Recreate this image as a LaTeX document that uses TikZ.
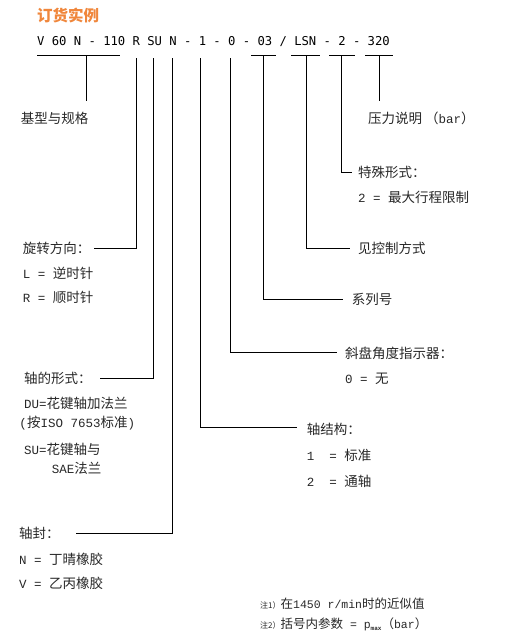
\documentclass[tikz,border=0pt]{standalone}
\usepackage{fontspec}
\newfontfamily\cjk{Noto Sans CJK SC}
\newfontfamily\lat{Liberation Mono}
\newfontfamily\codefont{DejaVu Sans Mono}
\newcommand{\lt}[1]{{\fontsize{12.5}{14}\lat #1}}
\definecolor{orangetitle}{RGB}{240,135,60}
\definecolor{ink}{RGB}{40,40,40}
\tikzset{
  lab/.style={anchor=west, inner sep=0pt, font=\fontsize{13.5}{16}\cjk, text=ink},
  note/.style={anchor=west, inner sep=0pt, font=\fontsize{12.5}{15}\cjk, text=ink},
  conn/.style={draw=black, line width=0.9pt},
}
\begin{document}
\begin{tikzpicture}[x=1pt, y=-1pt]
\fill[white] (0,0) rectangle (512,635);
\useasboundingbox (0,0) rectangle (512,635);

% title and code
\node[anchor=west, inner sep=0pt, text=orangetitle, font=\fontsize{15.5}{18}\cjk\bfseries] (title) at (37,15) {订货实例};
\node[anchor=west, inner sep=0pt, text=black, font=\fontsize{12.2}{15}\codefont] (code) at (37,42) {V 60 N - 110 R SU N - 1 - 0 - 03 / LSN - 2 - 320};

% underlines
\draw[conn] (37,55) -- (120,55);
\draw[conn] (251,55) -- (276,55);
\draw[conn] (291,55) -- (320,55);
\draw[conn] (329,55) -- (355,55);
\draw[conn] (365,55) -- (393,55);

% token anchor coordinates
\coordinate (tBase) at (86,55);
\coordinate (tR) at (136.3,58);
\coordinate (tSU) at (153.3,58);
\coordinate (tN) at (172.3,58);
\coordinate (tOne) at (200.3,58);
\coordinate (tZero) at (230.3,58);
\coordinate (tSer) at (263.3,55);
\coordinate (tLSN) at (306.3,55);
\coordinate (tTwo) at (341.3,55);
\coordinate (tPres) at (379,55);

% labels
\node[lab] (base) at (20.7,118) {基型与规格};
\node[lab] (pres) at (368,118) {压力说明\hspace{3pt}（\lt{bar}）};
\node[lab] (spec) at (358,172) {特殊形式：};
\node[lab] (spec2) at (358,197) {\lt{2 = }最大行程限制};
\node[lab] (ctrl) at (358,248) {见控制方式};
\node[lab] (ser) at (351.7,299.5) {系列号};
\node[lab] (rot) at (22.7,248) {旋转方向：};
\node[lab] (rotL) at (22.7,273.5) {\lt{L = }逆时针};
\node[lab] (rotR) at (22.7,297) {\lt{R = }顺时针};
\node[lab] (sw) at (345,353) {斜盘角度指示器：};
\node[lab] (sw0) at (345,378.5) {\lt{0 = }无};
\node[lab] (shaft) at (24,378) {轴的形式：};
\node[lab] (du) at (24,403.5) {\lt{DU=}花键轴加法兰};
\node[lab] (iso) at (19.3,423.5) {\lt{(}按\lt{ISO 7653}标准\lt{)}};
\node[lab] (su) at (24,449) {\lt{SU=}花键轴与};
\node[lab] (sae) at (51.7,468.5) {\lt{SAE}法兰};
\node[lab] (str) at (306.7,429) {轴结构：};
\node[lab] (str1) at (306.7,455) {\lt{1\ \ = }标准};
\node[lab] (str2) at (306.7,481) {\lt{2\ \ = }通轴};
\node[lab] (seal) at (19,533.5) {轴封：};
\node[lab] (sealN) at (19,559.5) {\lt{N = }丁晴橡胶};
\node[lab] (sealV) at (19,583.5) {\lt{V = }乙丙橡胶};
\node[note] (n1) at (260,604) {{\fontsize{8}{10}\cjk 注1）}在{\fontsize{11.5}{14}\lat 1450 r/min}时的近似值};
\node[note] (n2) at (260,624) {{\fontsize{8}{10}\cjk 注2）}括号内参数{\fontsize{11.5}{14}\lat{} = p\raisebox{-2.5pt}{\fontsize{6}{7}\lat\bfseries max}}（{\fontsize{11.5}{14}\lat bar}）};

% connector ends
\coordinate (eBase) at (86,101);
\coordinate (ePres) at (379,101);
\coordinate (eTwo) at (352,172);
\coordinate (eLSN) at (350,248);
\coordinate (eSer) at (343,299.5);
\coordinate (eR) at (94,248);
\coordinate (eZero) at (337,352);
\coordinate (eSU) at (100,378);
\coordinate (eOne) at (297,427.5);
\coordinate (eN) at (75.7,533.5);

% connectors
\draw[conn] (tBase) -- (eBase);
\draw[conn] (tPres) -- (ePres);
\draw[conn] (tTwo) |- (eTwo);
\draw[conn] (tLSN) |- (eLSN);
\draw[conn] (tSer) |- (eSer);
\draw[conn] (tR) |- (eR);
\draw[conn] (tZero) |- (eZero);
\draw[conn] (tSU) |- (eSU);
\draw[conn] (tOne) |- (eOne);
\draw[conn] (tN) |- (eN);
\end{tikzpicture}
\end{document}
